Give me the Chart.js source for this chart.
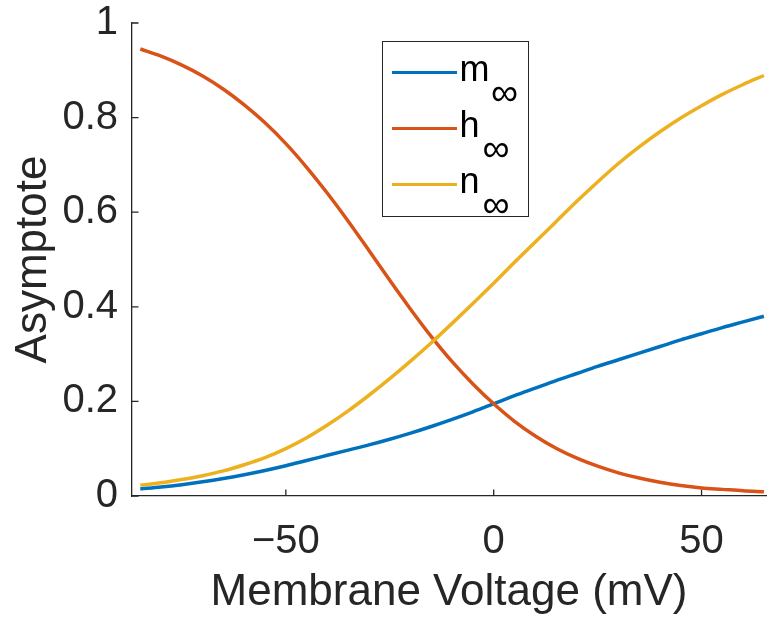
<!DOCTYPE html>
<html>
<head>
<meta charset="utf-8">
<script src="https://cdn.jsdelivr.net/npm/chart.js@4/dist/chart.umd.min.js"></script>
<style>
  html, body { margin: 0; padding: 0; background: #ffffff; }
  #wrap { position: relative; width: 769px; height: 621px; }
  canvas { position: absolute; left: 0; top: 0; }
  .lg-box { position: absolute; left: 381.5px; top: 40.5px; width: 147px; height: 176.5px;
            border: 1.5px solid #262626; box-sizing: border-box; background: #ffffff; }
  .lg-line { position: absolute; left: 391.7px; width: 65.6px; height: 3.6px; }
  .lg-txt { position: absolute; font-family: "Liberation Sans", Arial, sans-serif; color: #000;
            white-space: nowrap; }
</style>
</head>
<body>
<div id="wrap">
  <canvas id="c" width="769" height="621"></canvas>
  <div id="legend"></div>
</div>
<script>
// ---- data ----
const voltage = [-85,-80,-75,-70,-65,-60,-55,-50,-45,-40,-35,-30,-25,-20,-15,-10,-5,0,5,10,15,20,25,30,35,40,45,50,55,60,65];
const mInf = [0.015,0.019,0.024,0.030,0.037,0.045,0.054,0.064,0.075,0.086,0.097,0.108,0.120,0.133,0.147,0.162,0.178,0.195,0.212,0.228,0.244,0.259,0.274,0.288,0.302,0.316,0.330,0.343,0.356,0.368,0.380];
const hInf = [0.945,0.930,0.911,0.888,0.860,0.827,0.789,0.745,0.695,0.640,0.581,0.519,0.456,0.395,0.337,0.284,0.237,0.195,0.158,0.127,0.101,0.080,0.063,0.049,0.038,0.029,0.022,0.017,0.014,0.011,0.009];
const nInf = [0.023,0.028,0.035,0.043,0.053,0.066,0.081,0.100,0.123,0.150,0.180,0.213,0.248,0.285,0.324,0.365,0.407,0.450,0.494,0.537,0.580,0.623,0.664,0.703,0.738,0.770,0.799,0.825,0.849,0.870,0.889];
const seriesNames = ['m', 'h', 'n'];
const seriesColors = ['#0072BD', '#D95319', '#EDB120'];
const xTicks = [-50, 0, 50];
const yTicks = [0, 0.2, 0.4, 0.6, 0.8, 1];
const xTitle = 'Membrane Voltage (mV)';
const yTitle = 'Asymptote';

const axisColor = '#262626';
const fontFam = '"Liberation Sans", Arial, sans-serif';

function pts(arr) { return voltage.map((v, i) => ({ x: v, y: arr[i] })); }
const seriesData = [mInf, hInf, nInf];

const inwardTicks = {
  id: 'inwardTicks',
  beforeDatasetsDraw(chart) {
    const ctx = chart.ctx, xs = chart.scales.x, ys = chart.scales.y;
    const a = chart.chartArea;
    ctx.save();
    ctx.strokeStyle = axisColor;
    ctx.lineWidth = 1.3;
    ctx.beginPath();
    xTicks.forEach(v => { const p = xs.getPixelForValue(v); ctx.moveTo(p, a.bottom); ctx.lineTo(p, a.bottom - 6.5); });
    yTicks.forEach(v => { const p = ys.getPixelForValue(v); ctx.moveTo(a.left, p); ctx.lineTo(a.left + 6.5, p); });
    ctx.stroke();
    ctx.restore();
  }
};

new Chart(document.getElementById('c'), {
  type: 'line',
  data: {
    datasets: seriesData.map((arr, i) => ({
      label: seriesNames[i] + '\u221E',
      data: pts(arr),
      borderColor: seriesColors[i],
      backgroundColor: seriesColors[i],
      borderWidth: 3.5,
      pointRadius: 0,
      fill: false,
      cubicInterpolationMode: 'monotone',
      order: 2 - i
    }))
  },
  options: {
    responsive: false,
    animation: false,
    devicePixelRatio: 1,
    layout: { padding: { top: 23, right: 3, left: 0, bottom: 0 } },
    plugins: { legend: { display: false }, tooltip: { enabled: false } },
    scales: {
      x: {
        type: 'linear', position: 'bottom', min: -87, max: 65.5,
        afterFit(s) { s.height = 125; s.paddingLeft = 0; s.paddingRight = 0; },
        afterBuildTicks(s) { s.ticks = xTicks.map(v => ({ value: v })); },
        grid: { display: false, drawTicks: false },
        border: { display: true, color: axisColor, width: 1.3 },
        ticks: {
          autoSkip: false, maxRotation: 0, padding: 22, color: axisColor,
          font: { family: fontFam, size: 40 },
          callback: v => (v < 0 ? '\u2212' + Math.abs(v) : String(v))
        },
        title: { display: true, text: xTitle, color: axisColor, font: { family: fontFam, size: 44 }, padding: { top: 0, bottom: 2 } }
      },
      y: {
        type: 'linear', position: 'left', min: 0, max: 1,
        afterFit(s) { s.width = 132; s.paddingTop = 0; s.paddingBottom = 0; },
        afterBuildTicks(s) { s.ticks = yTicks.map(v => ({ value: v })); },
        grid: { display: false, drawTicks: false },
        border: { display: true, color: axisColor, width: 1.3 },
        ticks: {
          autoSkip: false, padding: 14, color: axisColor,
          font: { family: fontFam, size: 40 },
          callback: v => String(Math.round(v * 10) / 10)
        },
        title: { display: true, text: yTitle, color: axisColor, font: { family: fontFam, size: 44 }, padding: { top: 7, bottom: 0 } }
      }
    }
  },
  plugins: [inwardTicks]
});

// ---- legend (HTML text with subscript infinity) ----
(function buildLegend() {
  const lg = document.getElementById('legend');
  const box = document.createElement('div');
  box.className = 'lg-box';
  lg.appendChild(box);
  const fs = 36, subFs = 38;
  const rowY = [72.7, 128.7, 184.7];
  const subX = [491, 482.5, 482.5];
  seriesNames.forEach((name, i) => {
    const y = rowY[i];
    const ln = document.createElement('div');
    ln.className = 'lg-line';
    ln.style.top = (y - 1.8) + 'px';
    ln.style.background = seriesColors[i];
    lg.appendChild(ln);
    const t = document.createElement('div');
    t.className = 'lg-txt';
    t.style.fontSize = fs + 'px';
    t.style.lineHeight = fs + 'px';
    t.style.left = '459.5px';
    t.style.top = (y + 8.8 - 0.8465 * fs) + 'px';
    t.textContent = name;
    lg.appendChild(t);
    const s = document.createElement('div');
    s.className = 'lg-txt';
    s.style.fontSize = subFs + 'px';
    s.style.lineHeight = subFs + 'px';
    s.style.left = subX[i] + 'px';
    s.style.top = (y + 21.5 + 0.30 * subFs - 0.8465 * subFs) + 'px';
    s.textContent = '\u221E';
    lg.appendChild(s);
  });
})();
</script>
</body>
</html>
